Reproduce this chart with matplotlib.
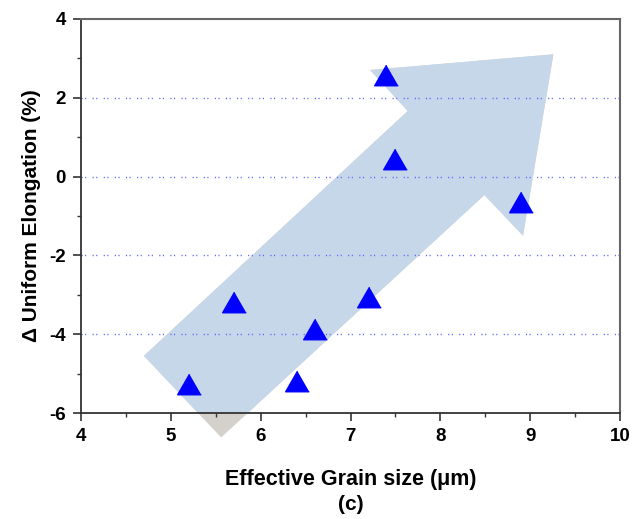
import matplotlib
matplotlib.use("Agg")
import matplotlib.pyplot as plt
from matplotlib.patches import Polygon
from matplotlib.ticker import MultipleLocator

plt.rcParams["font.family"] = ["Liberation Sans", "DejaVu Sans"]
plt.rcParams["font.weight"] = "bold"
plt.rcParams["axes.unicode_minus"] = False

# data
grain_size = [5.2, 5.7, 6.4, 6.6, 7.2, 7.4, 7.5, 8.9]
delta_elong = [-5.26, -3.17, -5.18, -3.86, -3.05, 2.57, 0.45, -0.65]

# outline of the big trend arrow (data coords)
arrow_x = [4.70, 7.637, 7.217, 9.258, 8.92, 8.49, 5.56]
arrow_y = [-4.55, 1.665, 2.706, 3.104, -1.50, -0.467, -6.62]

grid_y = [-4, -2, 0, 2]

fig = plt.figure(figsize=(6.32, 5.19), dpi=100)
ax = fig.add_axes([0.1282, 0.2042, 0.8529, 0.7592])

verts = list(zip(arrow_x, arrow_y))
# part sticking out below the frame is greyish in the original
ax.add_patch(Polygon(verts, closed=True, facecolor="#d4d1cd", edgecolor="none",
                     clip_on=False, zorder=0.5))
ax.add_patch(Polygon(verts, closed=True, facecolor="#c6d7ea", edgecolor="none",
                     zorder=1))

for gy in grid_y:
    ax.axhline(gy, color="#5c5cff", lw=1.0, ls=(0, (0.8, 1.8, 0.8, 4.6)), zorder=2)

tri = [(0, 1), (-1.15, -1), (1.15, -1)]
ax.plot(grain_size, delta_elong, ls="none", marker=tri, ms=17,
        color="#0000ff", mec="#0000ff", zorder=3)

ax.set_xlim(4, 10)
ax.set_ylim(-6, 4)
ax.xaxis.set_major_locator(MultipleLocator(1))
ax.xaxis.set_minor_locator(MultipleLocator(0.5))
ax.yaxis.set_major_locator(MultipleLocator(2))
ax.yaxis.set_minor_locator(MultipleLocator(1))
ax.tick_params(which="major", direction="out", length=6, width=1.2,
               labelsize=13.5, pad=5, color="#333333")
ax.tick_params(which="minor", direction="out", length=3, width=1.0, color="#333333")
for lab in ax.get_xticklabels() + ax.get_yticklabels():
    lab.set_fontweight("bold")

for side in ["left", "bottom"]:
    ax.spines[side].set_color("#333333")
    ax.spines[side].set_linewidth(1.3)
for side in ["top", "right"]:
    ax.spines[side].set_color("#666666")
    ax.spines[side].set_linewidth(1.5)

ax.set_xlabel("Effective Grain size (\u03bcm)", fontsize=15.5, fontweight="bold", labelpad=17)
ax.set_ylabel("\u0394 Uniform Elongation (%)", fontsize=15, fontweight="bold", labelpad=6)
fig.text(0.555, 0.027, "(c)", fontsize=15, fontweight="bold", ha="center", va="center")

fig.savefig("out.png", dpi=100)
